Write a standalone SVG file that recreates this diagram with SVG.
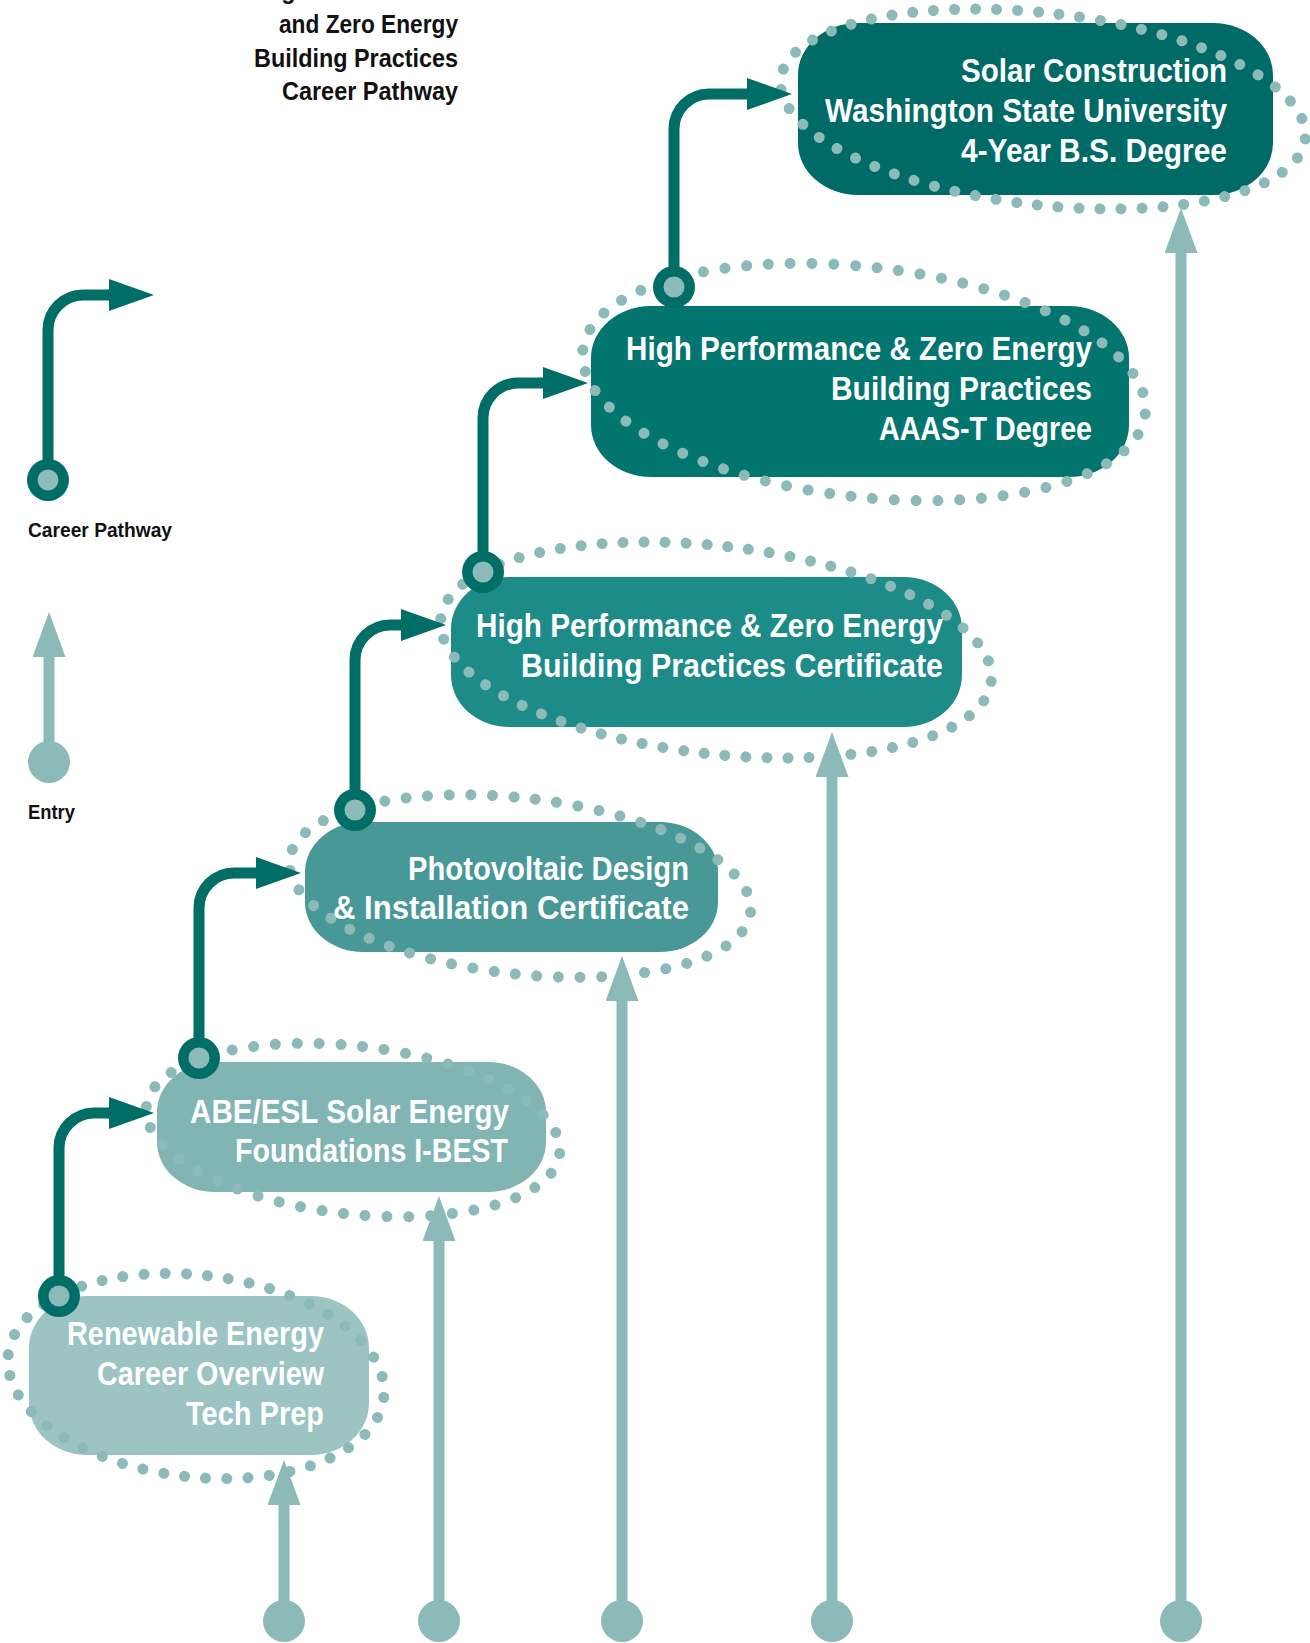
<svg xmlns="http://www.w3.org/2000/svg" width="1310" height="1643" viewBox="0 0 1310 1643">
<style>
  .t { font-family: "Liberation Sans", Arial, sans-serif; font-weight: bold; }
  .bt { font-size: 34px; fill: #ffffff; }
  .title { font-size: 25px; fill: #111111; }
  .leg { font-size: 21px; fill: #111111; }
  .dots { fill: none; stroke: #8bbab8; stroke-width: 11; stroke-linecap: round; stroke-dasharray: 0 1; }
  .path { fill: none; stroke: #006d67; stroke-width: 11; marker-end: url(#darrow); }
  .entry { fill: none; stroke: #8bbab8; stroke-width: 11; marker-end: url(#larrow); }
  .ring { fill: #006d67; }
  .hole { fill: #8bbab8; }
  .edot { fill: #8bbab8; }
</style>
<defs>
  <marker id="darrow" markerUnits="userSpaceOnUse" viewBox="0 0 45 32" markerWidth="45" markerHeight="32" refX="1" refY="16" orient="auto">
    <path d="M0,0 L45,16 L0,32 Z" fill="#006d67"/>
  </marker>
  <marker id="larrow" markerUnits="userSpaceOnUse" viewBox="0 0 45 33" markerWidth="45" markerHeight="33" refX="1" refY="16.5" orient="auto">
    <path d="M0,0 L45,16.5 L0,33 Z" fill="#8bbab8"/>
  </marker>
</defs>

<g id="title">
  <text class="t title" x="459" y="-1" text-anchor="end" textLength="201" lengthAdjust="spacingAndGlyphs">High Performance</text>
  <text class="t title" x="279" y="33" textLength="179" lengthAdjust="spacingAndGlyphs">and Zero Energy</text>
  <text class="t title" x="254" y="67" textLength="204" lengthAdjust="spacingAndGlyphs">Building Practices</text>
  <text class="t title" x="282" y="100" textLength="176" lengthAdjust="spacingAndGlyphs">Career Pathway</text>
</g>

<g id="node-renewable">
  <rect x="29" y="1296" width="340" height="159" rx="58" ry="52" fill="#9bc4c2"/>
  <ellipse class="dots" cx="196" cy="1376" rx="189" ry="101" transform="rotate(6.5 196 1376)" pathLength="44"/>
  <text class="t bt" x="67" y="1345" textLength="257" lengthAdjust="spacingAndGlyphs">Renewable Energy</text>
  <text class="t bt" x="97" y="1385" textLength="227" lengthAdjust="spacingAndGlyphs">Career Overview</text>
  <text class="t bt" x="186" y="1425" textLength="138" lengthAdjust="spacingAndGlyphs">Tech Prep</text>
</g>

<g id="node-abe">
  <rect x="157" y="1062" width="389" height="130" rx="58" ry="50" fill="#80b5b3"/>
  <ellipse class="dots" cx="353" cy="1130" rx="208" ry="84" transform="rotate(6.5 353 1130)" pathLength="44"/>
  <text class="t bt" x="190" y="1123" textLength="319" lengthAdjust="spacingAndGlyphs">ABE/ESL Solar Energy</text>
  <text class="t bt" x="235" y="1162" textLength="273" lengthAdjust="spacingAndGlyphs">Foundations I-BEST</text>
</g>

<g id="node-pv">
  <rect x="305" y="822" width="413" height="130" rx="58" ry="50" fill="#479896"/>
  <ellipse class="dots" cx="520" cy="886" rx="232" ry="88" transform="rotate(6.5 520 886)" pathLength="49"/>
  <text class="t bt" x="408" y="880" textLength="281" lengthAdjust="spacingAndGlyphs">Photovoltaic Design</text>
  <text class="t bt" x="333" y="919" textLength="356" lengthAdjust="spacingAndGlyphs">&amp; Installation Certificate</text>
</g>

<g id="node-hpcert">
  <rect x="451" y="577" width="511" height="150" rx="58" ry="52" fill="#1d8c89"/>
  <ellipse class="dots" cx="716" cy="650" rx="277" ry="104" transform="rotate(6.5 716 650)" pathLength="60"/>
  <text class="t bt" x="476" y="637" textLength="467" lengthAdjust="spacingAndGlyphs">High Performance &amp; Zero Energy</text>
  <text class="t bt" x="521" y="677" textLength="422" lengthAdjust="spacingAndGlyphs">Building Practices Certificate</text>
</g>

<g id="node-aaas">
  <rect x="591" y="306" width="538" height="171" rx="60" ry="52" fill="#03756f"/>
  <ellipse class="dots" cx="864" cy="382" rx="283" ry="115" transform="rotate(6.5 864 382)" pathLength="60"/>
  <text class="t bt" x="626" y="360" textLength="466" lengthAdjust="spacingAndGlyphs">High Performance &amp; Zero Energy</text>
  <text class="t bt" x="831" y="400" textLength="261" lengthAdjust="spacingAndGlyphs">Building Practices</text>
  <text class="t bt" x="879" y="440" textLength="213" lengthAdjust="spacingAndGlyphs">AAAS-T Degree</text>
</g>

<g id="node-wsu">
  <rect x="798" y="23" width="475" height="172" rx="60" ry="52" fill="#006b66"/>
  <ellipse class="dots" cx="1043" cy="109" rx="264" ry="96" transform="rotate(6.5 1043 109)" pathLength="57"/>
  <text class="t bt" x="961" y="82" textLength="266" lengthAdjust="spacingAndGlyphs">Solar Construction</text>
  <text class="t bt" x="825" y="122" textLength="402" lengthAdjust="spacingAndGlyphs">Washington State University</text>
  <text class="t bt" x="961" y="162" textLength="266" lengthAdjust="spacingAndGlyphs">4-Year B.S. Degree</text>
</g>

<g id="legend">
  <path class="path" d="M48,480 V330 A35,35 0 0 1 83,295 H110"/>
  <circle class="ring" cx="48" cy="480" r="21"/>
  <circle class="hole" cx="48" cy="480" r="10.5"/>
  <text class="t leg" x="28" y="537" textLength="144" lengthAdjust="spacingAndGlyphs">Career Pathway</text>
  <path class="entry" d="M49,762 V656"/>
  <circle class="edot" cx="49" cy="762" r="21"/>
  <text class="t leg" x="28" y="819" textLength="47" lengthAdjust="spacingAndGlyphs">Entry</text>
</g>

<g id="connectors">
  <path class="path" d="M59,1296 V1148 A35,35 0 0 1 94,1113 H110"/>
  <path class="path" d="M199,1058 V908 A35,35 0 0 1 234,873 H257"/>
  <path class="path" d="M355,810 V660 A35,35 0 0 1 390,625 H402"/>
  <path class="path" d="M483,572 V418 A35,35 0 0 1 518,383 H544"/>
  <path class="path" d="M674,287 V129 A35,35 0 0 1 709,94 H748"/>
  <circle class="ring" cx="59" cy="1296" r="21"/><circle class="hole" cx="59" cy="1296" r="10.5"/>
  <circle class="ring" cx="199" cy="1058" r="21"/><circle class="hole" cx="199" cy="1058" r="10.5"/>
  <circle class="ring" cx="355" cy="810" r="21"/><circle class="hole" cx="355" cy="810" r="10.5"/>
  <circle class="ring" cx="483" cy="572" r="21"/><circle class="hole" cx="483" cy="572" r="10.5"/>
  <circle class="ring" cx="674" cy="287" r="21"/><circle class="hole" cx="674" cy="287" r="10.5"/>

  <path class="entry" d="M284,1621 V1504"/>
  <path class="entry" d="M439,1621 V1240"/>
  <path class="entry" d="M622,1621 V1000"/>
  <path class="entry" d="M832,1621 V776"/>
  <path class="entry" d="M1181,1621 V252"/>
  <circle class="edot" cx="284" cy="1621" r="21"/>
  <circle class="edot" cx="439" cy="1621" r="21"/>
  <circle class="edot" cx="622" cy="1621" r="21"/>
  <circle class="edot" cx="832" cy="1621" r="21"/>
  <circle class="edot" cx="1181" cy="1621" r="21"/>
</g>
</svg>
